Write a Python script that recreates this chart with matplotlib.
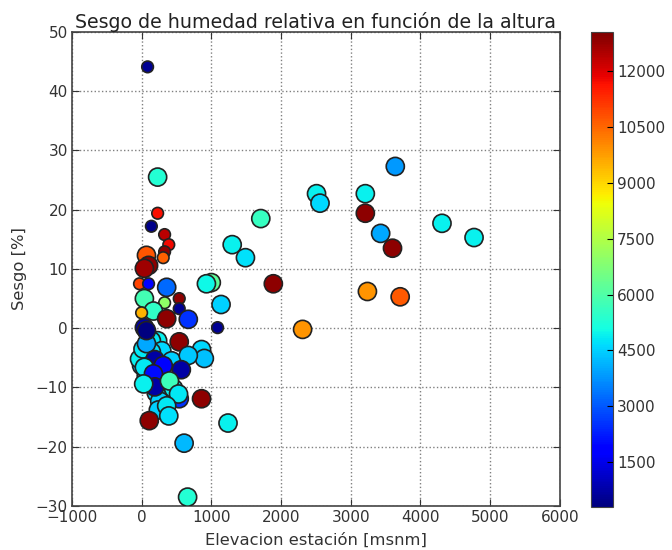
import numpy as np
import matplotlib
matplotlib.use('Agg')
import matplotlib.pyplot as plt

# station elevation [msnm], relative humidity bias [%], colour variable, marker class
elevacion = [
    230, 140, 70, 290, 430, 70, 210, 460, 260, 0, -30, 140, 20, 240,
    86, 230, 230, 140, 330, 390, 330, 310, 70, 100, 40, -30, 100, 360,
    540, 40, 330, 540, 170, 0, 360, 670, 40, 1090, 1000, 930, 1140, 1890,
    1710, 1300, 1490, 3640, 2510, 2560, 3210, 3210, 3430, 3600, 4310, 4770,
    3240, 3710, 2310,
    70, 540, 860, 900, 670, 190, 570, 40, 310, 170, 190, 400, 30, 540, 860,
    530, 360, 390, 110, 1240, 610, 660, 70,
]
sesgo = [
    -2.1, -2.1, -8.0, -3.8, -5.5, -8.0, -10.9, -10.2, -12.3, -6.3, -5.2, -4.0, -3.5, -13.8,
    44.1, 25.5, 19.4, 17.2, 15.8, 14.1, 12.9, 11.9, 12.3, 10.6, 10.1, 7.5, 7.5, 6.9,
    5.0, 5.0, 4.3, 3.3, 2.9, 2.6, 1.6, 1.5, 0.1, 0.1, 7.7, 7.5, 4.0, 7.5,
    18.5, 14.1, 11.9, 27.3, 22.7, 21.1, 22.7, 19.4, 16.0, 13.5, 17.7, 15.3,
    6.2, 5.3, -0.2,
    -2.6, -2.3, -3.6, -5.1, -4.6, -5.3, -7.0, -6.6, -6.3, -7.7, -9.9, -8.9, -9.4, -11.9, -11.9,
    -11.1, -13.1, -14.8, -15.6, -16.0, -19.4, -28.5, -0.4,
]
valor = [
    4900, 4800, 5200, 4600, 4500, 5000, 4600, 4900, 4500, 4400, 4900, 4700, 4800, 4500,
    500, 5300, 11700, 400, 12400, 11800, 12900, 10600, 10750, 12900, 12700, 11000, 1800, 3200,
    12900, 5800, 7000, 500, 5500, 9500, 12900, 2500, 700, 500, 6200, 5000, 4500, 12900,
    5600, 4900, 4700, 3800, 4900, 4600, 4900, 12900, 4000, 12900, 4900, 4900,
    9900, 10700, 9900,
    4000, 12900, 4600, 4300, 4400, 700, 700, 4800, 1800, 2000, 700, 5700, 4900, 2500, 12900,
    4800, 4800, 4700, 12900, 4900, 4200, 5300, 300,
]
grande = [
    1, 1, 1, 1, 1, 1, 1, 1, 1, 1, 1, 1, 1, 1,
    0, 1, 0, 0, 0, 0, 0, 0, 1, 1, 1, 0, 0, 1,
    0, 1, 0, 0, 1, 0, 1, 1, 1, 0, 1, 1, 1, 1,
    1, 1, 1, 1, 1, 1, 1, 1, 1, 1, 1, 1,
    1, 1, 1,
    1, 1, 1, 1, 1, 1, 1, 1, 1, 1, 1, 1, 1, 1, 1,
    1, 1, 1, 1, 1, 1, 1, 1,
]
cbar_ticks = [1500, 3000, 4500, 6000, 7500, 9000, 10500, 12000]

plt.rcParams['font.family'] = 'DejaVu Sans'
plt.rcParams['xtick.direction'] = 'in'
plt.rcParams['ytick.direction'] = 'in'

fig = plt.figure(figsize=(6.72, 5.5), dpi=100)
ax = fig.add_axes([0.107, 0.080, 0.726, 0.862])
cax = fig.add_axes([0.8795, 0.079, 0.0327, 0.862])

tamanos = np.where(np.array(grande) == 1, 170, 70)
sc = ax.scatter(elevacion, sesgo, c=valor, s=tamanos, cmap='jet',
                vmin=300, vmax=13050, edgecolors='#222222', linewidths=1.2, zorder=3)

ax.set_xlim(-1000, 6000)
ax.set_ylim(-30, 50)
ax.set_xticks(np.arange(-1000, 6001, 1000))
ax.set_yticks(np.arange(-30, 51, 10))
ax.grid(True, color='0.5', linestyle=':', linewidth=1.0, zorder=0)
ax.set_axisbelow(True)
ax.tick_params(top=True, right=True, length=5, width=0.8, labelsize=11,
               labelcolor='#333333', color='#333333', pad=3)
for sp in ax.spines.values():
    sp.set_color('#444444')
    sp.set_linewidth(1.2)
ax.set_title('Sesgo de humedad relativa en función de la altura',
             fontsize=13.7, color='#222222', pad=3)
ax.set_xlabel('Elevacion estación [msnm]', fontsize=11.8, color='#333333', labelpad=5)
ax.set_ylabel('Sesgo [%]', fontsize=11.8, color='#333333', labelpad=6)

cb = fig.colorbar(sc, cax=cax, ticks=cbar_ticks)
cb.ax.tick_params(direction='in', length=4, labelsize=11, labelcolor='#333333', pad=3)
cb.outline.set_edgecolor('#444444')

fig.savefig('out.png', dpi=100)
